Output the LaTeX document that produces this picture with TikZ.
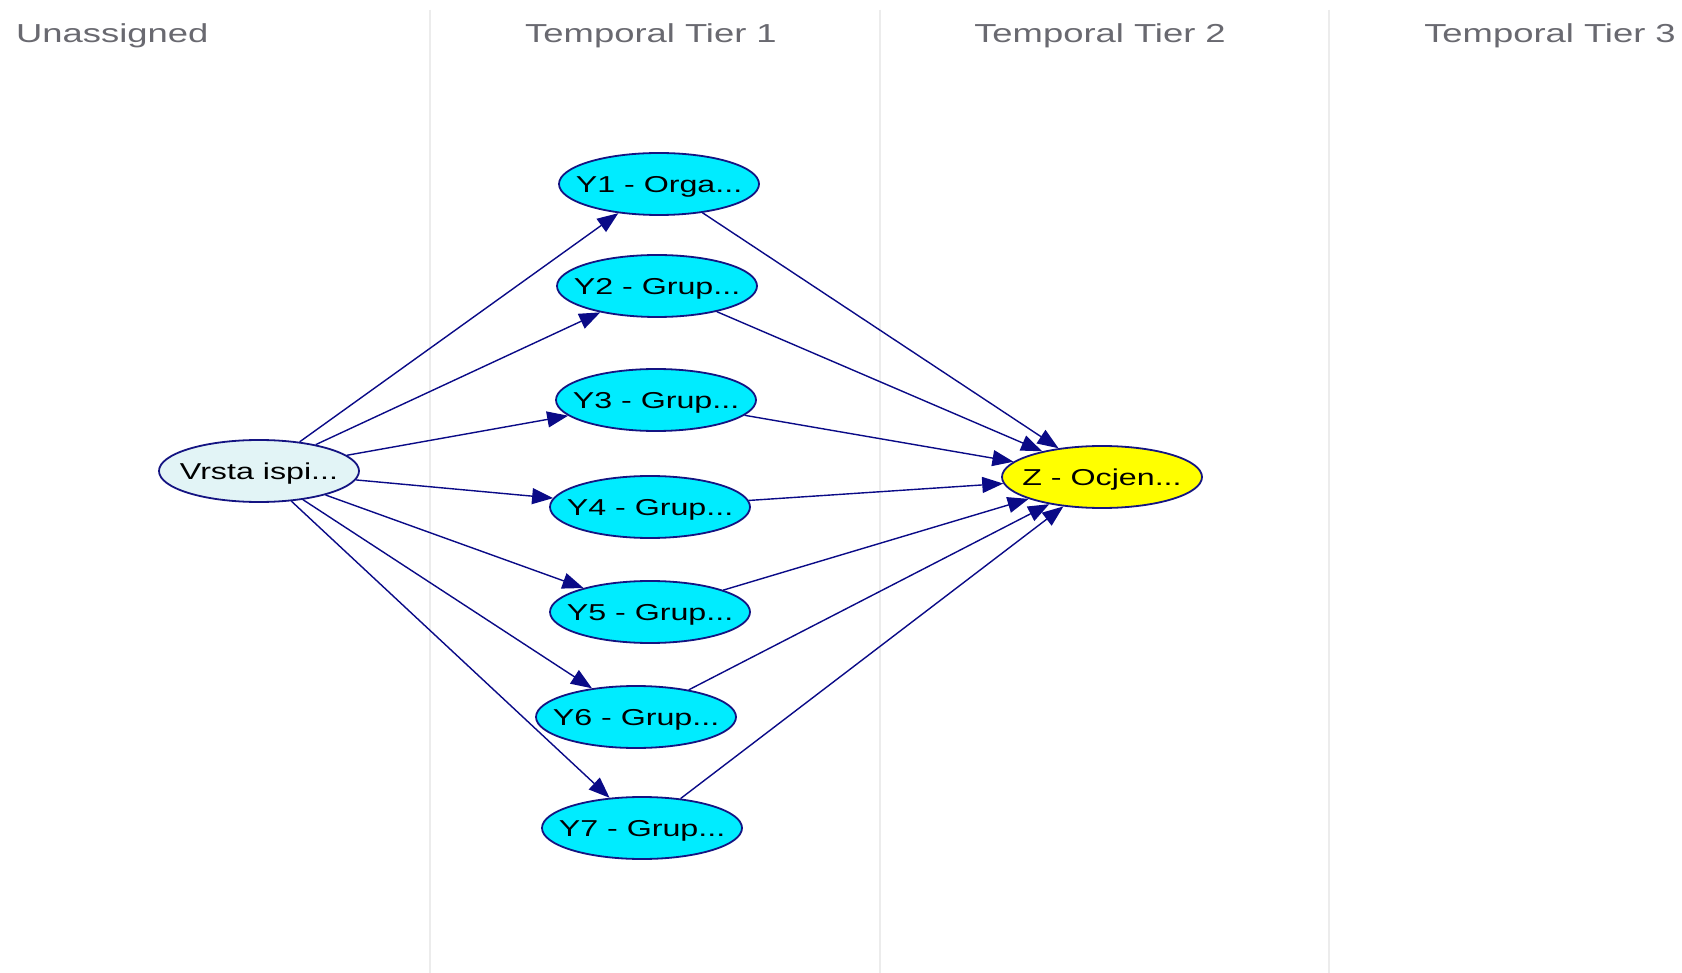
\documentclass[tikz,border=0pt]{standalone}
\usepackage{fontspec}
\usetikzlibrary{shapes.geometric,arrows.meta}
\newfontfamily\lblfont[FakeStretch=1.4]{Liberation Sans}
\newcommand\nodetxt[1]{\smash{\makebox[0pt]{\raisebox{-0.36em}{#1}}}}
\definecolor{hdr}{RGB}{105,105,112}
\definecolor{sep}{RGB}{236,236,236}
\definecolor{edgec}{RGB}{10,10,135}
\definecolor{bord}{RGB}{20,20,130}
\definecolor{cyanf}{RGB}{0,236,255}
\definecolor{palef}{RGB}{226,244,246}
\definecolor{yelf}{RGB}{255,255,0}
\begin{document}
\begin{tikzpicture}[x=1pt,y=-1pt,
  hdrtext/.style={font=\lblfont\fontsize{26}{29}\selectfont, text=hdr, anchor=base, inner sep=0},
  sepline/.style={draw=sep, line width=2pt},
  varnode/.style={ellipse, draw=bord, line width=1.8pt, minimum width=200pt, minimum height=62pt, inner sep=0pt,
    font=\lblfont\fontsize{23}{26}\selectfont, text=black},
  tier/.style={varnode, fill=cyanf},
  edgeline/.style={draw=edgec, line width=1.4pt, -{Triangle[length=21pt,width=16pt]}}
]
\useasboundingbox[fill=white] (0,0) rectangle (1682,973);
% column separators
\coordinate (s1t) at (430,10); \coordinate (s1b) at (430,973);
\coordinate (s2t) at (880,10); \coordinate (s2b) at (880,973);
\coordinate (s3t) at (1329,10); \coordinate (s3b) at (1329,973);
\draw[sepline] (s1t) -- (s1b);
\draw[sepline] (s2t) -- (s2b);
\draw[sepline] (s3t) -- (s3b);
% headers
\node[hdrtext, anchor=base west] (h0) at (16,43) {Unassigned};
\node[hdrtext] (h1) at (651,43) {Temporal Tier 1};
\node[hdrtext] (h2) at (1100,43) {Temporal Tier 2};
\node[hdrtext] (h3) at (1550,43) {Temporal Tier 3};
% nodes
\node[varnode, fill=palef] (v) at (259,471) {\nodetxt{Vrsta ispi...}};
\node[tier] (y1) at (659,184) {\nodetxt{Y1 - Orga...}};
\node[tier] (y2) at (657,286) {\nodetxt{Y2 - Grup...}};
\node[tier] (y3) at (656,400) {\nodetxt{Y3 - Grup...}};
\node[tier] (y4) at (650,507) {\nodetxt{Y4 - Grup...}};
\node[tier] (y5) at (650,612) {\nodetxt{Y5 - Grup...}};
\node[tier] (y6) at (636,717) {\nodetxt{Y6 - Grup...}};
\node[tier] (y7) at (642,828) {\nodetxt{Y7 - Grup...}};
\node[varnode, fill=yelf] (z) at (1102,477) {\nodetxt{Z - Ocjen...}};
% edges
\foreach \t in {y1,y2,y3,y4,y5,y6,y7}{
  \draw[edgeline] (v) -- (\t);
  \draw[edgeline] (\t) -- (z);
}
\end{tikzpicture}
\end{document}
